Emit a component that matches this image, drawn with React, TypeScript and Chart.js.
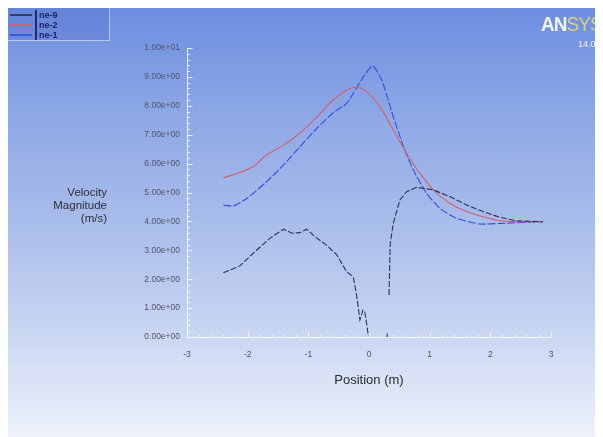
import React, { useEffect, useRef } from "react";
import { Chart, registerables } from "chart.js";
Chart.register(...registerables);

const xMin = -3;
const xMax = 3;
const yMin = 0;
const yMax = 10;
const minorPerMajor = 5;

const seriesLabels = ["ne-9", "ne-2", "ne-1"];

// ne-9 (dark) – has a gap near x≈0.3
const blackPos = [-2.4, -2.13, -1.85, -1.63, -1.41, -1.27, -1.14, -1.03, -0.86, -0.7, -0.53, -0.37, -0.26, -0.2, -0.15, -0.1, -0.07, -0.04, -0.01,
  0.15, 0.3, 0.3, 0.31, 0.33, 0.35, 0.4, 0.51, 0.62, 0.79, 1.06, 1.33, 1.61, 1.88, 2.16, 2.43, 2.87];
const blackVel = [2.22, 2.46, 3.01, 3.42, 3.73, 3.59, 3.61, 3.73, 3.42, 3.18, 2.84, 2.26, 2.09, 1.39, 0.59, 0.93, 0.88, 0.47, 0.03,
  null, 0.0, 0.12, null, 1.45, 3.24, 3.93, 4.74, 5.03, 5.18, 5.09, 4.86, 4.57, 4.34, 4.14, 4.02, 3.99];

// ne-2 (red)
const redPos = [-2.4, -2.24, -1.91, -1.69, -1.41, -1.14, -0.86, -0.59, -0.37, -0.2, -0.04, 0.18, 0.4, 0.62, 0.84, 1.06, 1.33, 1.61, 1.88, 2.16, 2.43, 2.87];
const redVel = [5.51, 5.61, 5.89, 6.3, 6.64, 7.05, 7.62, 8.2, 8.55, 8.64, 8.49, 7.97, 7.16, 6.36, 5.66, 5.09, 4.63, 4.34, 4.16, 4.02, 3.99, 3.99];

// ne-1 (blue)
const bluePos = [-2.4, -2.24, -2.01, -1.69, -1.41, -1.14, -0.86, -0.59, -0.37, -0.26, -0.09, 0.06, 0.21, 0.4, 0.57, 0.73, 0.95, 1.17, 1.44, 1.83, 2.16, 2.87];
const blueVel = [4.57, 4.53, 4.8, 5.37, 5.95, 6.58, 7.22, 7.76, 8.08, 8.43, 9.01, 9.38, 8.89, 7.62, 6.58, 5.78, 4.97, 4.45, 4.11, 3.91, 3.93, 3.99];

const seriesColors = ["#2b3350", "#d2606e", "#2f52dc"];

const toPoints = (xs: number[], ys: (number | null)[]) => xs.map((x, i) => ({ x, y: ys[i] }));

const fmtExp = (v: number) => {
  const s = Number(v).toExponential(2);
  const [m, e] = s.split("e");
  const sign = e[0] === "-" ? "-" : "+";
  const d = e.replace(/[+-]/, "").padStart(2, "0");
  return `${m}e${sign}${d}`;
};

const axesPlugin = {
  id: "ansysAxes",
  beforeDatasetsDraw(chart: any) {
    const { ctx, scales } = chart;
    const x = scales.x;
    const y = scales.y;
    const x0 = Math.round(x.getPixelForValue(xMin)) + 0.5;
    const x1 = x.getPixelForValue(xMax);
    const y0 = Math.round(y.getPixelForValue(yMin)) + 0.5;
    const y1 = y.getPixelForValue(yMax);
    ctx.save();
    ctx.strokeStyle = "rgba(255,255,255,0.85)";
    ctx.lineWidth = 1;
    ctx.beginPath();
    ctx.moveTo(x0, y1);
    ctx.lineTo(x0, y0);
    ctx.moveTo(x0, y0);
    ctx.lineTo(x1, y0);
    const ySteps = (yMax - yMin) * minorPerMajor;
    for (let i = 0; i <= ySteps; i++) {
      const v = yMin + i / minorPerMajor;
      const py = Math.round(y.getPixelForValue(v)) + 0.5;
      const len = i % minorPerMajor === 0 ? 5 : 2.5;
      ctx.moveTo(x0, py);
      ctx.lineTo(x0 + len, py);
    }
    const xSteps = (xMax - xMin) * minorPerMajor;
    for (let i = 0; i <= xSteps; i++) {
      const v = xMin + i / minorPerMajor;
      const px = Math.round(x.getPixelForValue(v)) + 0.5;
      const len = i % minorPerMajor === 0 ? 5 : 2.5;
      ctx.moveTo(px, y0);
      ctx.lineTo(px, y0 - len);
    }
    ctx.stroke();
    ctx.restore();
  },
};

export default function App() {
  const ref = useRef<HTMLCanvasElement | null>(null);
  useEffect(() => {
    if (!ref.current) return;
    const chart = new Chart(ref.current, {
      type: "line",
      data: {
        datasets: [
          { label: seriesLabels[0], data: toPoints(blackPos, blackVel) as any, borderColor: seriesColors[0], borderWidth: 1.1, borderDash: [6, 2], pointRadius: 0, spanGaps: false, tension: 0 },
          { label: seriesLabels[1], data: toPoints(redPos, redVel) as any, borderColor: seriesColors[1], borderWidth: 1.1, pointRadius: 0, tension: 0.3 },
          { label: seriesLabels[2], data: toPoints(bluePos, blueVel) as any, borderColor: seriesColors[2], borderWidth: 1.1, borderDash: [8, 2], pointRadius: 0, tension: 0.2 },
        ],
      },
      options: {
        animation: false,
        responsive: false,
        layout: { padding: { left: 8, top: 40, right: 52, bottom: 0 } },
        plugins: { legend: { display: false }, tooltip: { enabled: false } },
        scales: {
          x: {
            type: "linear",
            min: xMin,
            max: xMax,
            grid: { display: false, drawTicks: false },
            border: { display: false },
            ticks: { stepSize: 1, padding: 13, color: "#50566a", font: { size: 8.5, family: "Liberation Sans, Arial, sans-serif" } },
            title: { display: true, text: "Position (m)", color: "#2a2a2a", font: { size: 13, family: "Liberation Sans, Arial, sans-serif" }, padding: { top: 0, bottom: 49 } },
            afterFit: (s: any) => { s.height = 100; },
          },
          y: {
            type: "linear",
            min: yMin,
            max: yMax,
            grid: { display: false, drawTicks: false },
            border: { display: false },
            ticks: { stepSize: 1, padding: 7, color: "#50566a", font: { size: 8.5, family: "Liberation Sans, Arial, sans-serif" }, callback: (v: any) => fmtExp(Number(v)) },
            afterFit: (s: any) => { s.width = 171; },
          },
        },
      },
      plugins: [axesPlugin],
    });
    return () => chart.destroy();
  }, []);

  const legendRow = (i: number) => (
    <div key={i} style={{ display: "flex", alignItems: "center", height: 10 }}>
      <div style={{ width: 22, height: 2, background: seriesColors[i], marginRight: 3, opacity: 0.85 }} />
      <div style={{ width: 2, height: 10, background: "#1e2a6a", marginRight: 2 }} />
      <span style={{ fontSize: 9, lineHeight: "10px", fontWeight: "bold", color: "#1a2466", fontFamily: "Liberation Sans, Arial, sans-serif" }}>{seriesLabels[i]}</span>
    </div>
  );

  return (
    <div
      style={{
        position: "relative",
        width: 595,
        height: 429,
        overflow: "hidden",
        background: "linear-gradient(to bottom, #6d8ee0 0%, #8ea8e6 25%, #a9bdeb 50%, #c8d5f2 75%, #eef2fb 100%)",
      }}
    >
      <canvas ref={ref} width={595} height={429} style={{ position: "absolute", left: 0, top: 0 }} />
      <div
        style={{
          position: "absolute",
          left: 0,
          top: 0,
          width: 102,
          height: 33,
          background: "rgba(80,105,200,0.25)",
          borderRight: "1px solid rgba(200,215,245,0.8)",
          borderBottom: "1px solid rgba(200,215,245,0.8)",
          paddingTop: 2,
          paddingLeft: 2,
          boxSizing: "border-box",
        }}
      >
        {legendRow(0)}
        {legendRow(1)}
        {legendRow(2)}
      </div>
      <div
        style={{
          position: "absolute",
          left: 533,
          top: 5,
          whiteSpace: "nowrap",
          fontFamily: "Liberation Sans, Arial, sans-serif",
          fontSize: 21,
          lineHeight: "22px",
          letterSpacing: -1,
          transform: "scaleX(0.9)",
          transformOrigin: "left top",
        }}
      >
        <span style={{ color: "#f2f4fb", fontWeight: "bold" }}>AN</span>
        <span style={{ color: "#d6d27c" }}>SYS</span>
      </div>
      <div
        style={{
          position: "absolute",
          left: 570,
          top: 31,
          whiteSpace: "nowrap",
          fontSize: 9,
          color: "#f0f2fa",
          fontFamily: "Liberation Sans, Arial, sans-serif",
        }}
      >
        14.0
      </div>
      <div
        style={{
          position: "absolute",
          right: 496,
          top: 178,
          textAlign: "right",
          fontSize: 11.5,
          lineHeight: "13px",
          color: "#2e2e36",
          fontFamily: "Liberation Sans, Arial, sans-serif",
          whiteSpace: "nowrap",
        }}
      >
        <div>Velocity</div>
        <div>Magnitude</div>
        <div>(m/s)</div>
      </div>
    </div>
  );
}
